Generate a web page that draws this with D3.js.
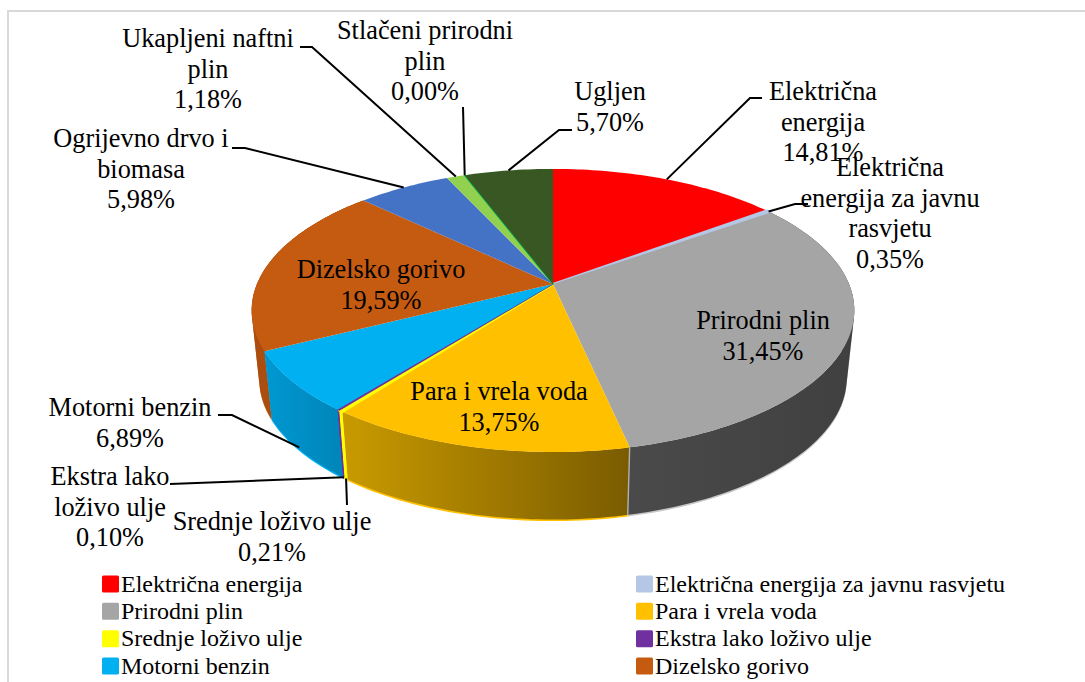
<!DOCTYPE html>
<html><head><meta charset="utf-8">
<script src="https://cdn.jsdelivr.net/npm/d3@7"></script>
<style>html,body{margin:0;padding:0;background:#fff;overflow:hidden}svg{display:block}text{font-family:"Liberation Serif",serif;fill:#000}</style>
</head><body><svg id="c" width="1085" height="682"></svg>
<script>
const categories=["Električna energija","Električna energija za javnu rasvjetu","Prirodni plin","Para i vrela voda","Srednje loživo ulje","Ekstra lako loživo ulje","Motorni benzin","Dizelsko gorivo","Ogrijevno drvo i biomasa","Ukapljeni naftni plin","Stlačeni prirodni plin","Ugljen"];
const values=[14.81,0.35,31.45,13.75,0.21,0.10,6.89,19.59,5.98,1.18,0.00,5.70];
const colors=["#ff0000","#b4c7e7","#a5a5a5","#ffc000","#ffff00","#7030a0","#00b0f0","#c55a11","#4472c4","#92d050","#00b050","#385723"];
const wallLeft=[null,null,"#4a4a4a","#c99a00","#d8d800","#5a2585","#0098d2","#aa4d0e",null,null,null,null];
const wallRight=[null,null,"#404040","#7a5c00","#d8d800","#5a2585","#0085b8","#aa4d0e",null,null,null,null];
const labelLines=[["Električna","energija"],["Električna","energija za javnu","rasvjetu"],["Prirodni plin"],["Para i vrela voda"],["Srednje loživo ulje"],["Ekstra lako","loživo ulje"],["Motorni benzin"],["Dizelsko gorivo"],["Ogrijevno drvo i","biomasa"],["Ukapljeni naftni","plin"],["Stlačeni prirodni","plin"],["Ugljen"]];
// label layout: centre x, first baseline, leader elbows, anchor depth fraction
const layout=[
 {x:823,y:100,el:[[750,98],[762,98]],d:0},
 {x:890,y:176,el:[[795,204],[808,204]],d:0},
 {x:763,y:329},
 {x:499,y:400},
 {x:272,y:530,el:[[347,505]],d:1.0},
 {x:110,y:485,el:[[170,484]],d:1.0},
 {x:130,y:416,el:[[232,415],[218,415]],d:0.97},
 {x:381,y:278},
 {x:141,y:147,el:[[245,148],[232,148]],d:0},
 {x:208,y:47,el:[[312,47],[300,47]],d:0},
 {x:425,y:39,el:[[463,107]],d:0},
 {x:610,y:100,el:[[559,130],[572,130]],d:0}
];
const W=1085,H=682,labelSize=26.3,legendSize=24,lineH=30.5;
const cx=553,cy=284,R=296,S=136.6,K=0.187,depth=67.5,shrink=0.975;
const svg=d3.select("#c");
const defs=svg.append("defs");
// frame
svg.append("path").attr("d",d3.line()([[8,H],[8,11],[W,11]])).attr("fill","none").attr("stroke","#d9d9d9").attr("stroke-width",2);

const pie=d3.pie().sort(null).value(d=>d);
const arcs=pie(values);
function topPt(a){const u=Math.sin(a),v=-Math.cos(a),w=1-K*v;return [cx+R*u/w,cy+S*v/w];}
function botPt(a,extra=0){const p=topPt(a);return [cx+(p[0]-cx)*shrink,p[1]+depth+extra];}
function samples(a0,a1){const n=Math.max(2,Math.ceil((a1-a0)/0.02));return d3.range(n+1).map(i=>a0+(a1-a0)*i/n);}
const lineGen=d3.line();
// wall band as one path of same-oriented quads, so the silhouette between rim curves is filled
function bandPath(t,extra){
 return d3.pairs(t).map(([a,b])=>{
  let q=[topPt(a),topPt(b),botPt(b,extra),botPt(a,extra)];
  if(d3.polygonArea(q)<0)q=q.reverse();
  return lineGen(q)+"Z";
 }).join("");
}

// walls
const wallG=svg.append("g");
const order=[7,6,5,4,2,3];
// coloured rim below the walls
order.forEach(i=>{const a=arcs[i],t=samples(a.startAngle,a.endAngle);
 wallG.append("path").attr("d",bandPath(t,1.6)).attr("fill",i===2?"#c8c8c8":colors[i]);
});
order.forEach(i=>{const a=arcs[i],t=samples(a.startAngle,a.endAngle);
 const xs=t.map(x=>topPt(x)[0]).concat(t.map(x=>botPt(x)[0]));
 const id="w"+i;
 const g=defs.append("linearGradient").attr("id",id).attr("gradientUnits","userSpaceOnUse")
  .attr("x1",d3.min(xs)).attr("x2",d3.max(xs)).attr("y1",0).attr("y2",0);
 g.append("stop").attr("offset",0).attr("stop-color",wallLeft[i]);
 g.append("stop").attr("offset",1).attr("stop-color",wallRight[i]);
 wallG.append("path").attr("d",bandPath(t,0)).attr("fill",`url(#${id})`);
});
// seam on wall between gold and grey
wallG.append("path").attr("d",lineGen([topPt(arcs[2].endAngle),botPt(arcs[2].endAngle)])).attr("stroke","#b0b0b0").attr("stroke-width",1.4).attr("fill","none");
// thin yellow / purple seams
[[4,"#ffff00",3],[5,"#7030a0",1.4]].forEach(([i,c,w])=>{const m=(arcs[i].startAngle+arcs[i].endAngle)/2;
 wallG.append("path").attr("d",lineGen([topPt(m),botPt(m)])).attr("stroke",c).attr("stroke-width",w).attr("fill","none");});

// top faces
svg.append("g").selectAll("path").data(arcs).join("path")
 .attr("d",a=>lineGen([[cx,cy]].concat(samples(a.startAngle,a.endAngle).map(x=>topPt(x))))+"Z")
 .attr("fill",(a,i)=>colors[i])
 .attr("stroke",(a,i)=>(values[i]<0.5?colors[i]:"none"))
 .attr("stroke-width",(a,i)=>i===10?1.6:(i===1?2.2:(i===4?2.6:1.2)))
 .attr("stroke-linejoin","round");

// leaders
const lg=svg.append("g").attr("fill","none").attr("stroke","#000").attr("stroke-width",2);
layout.forEach((l,i)=>{ if(!l.el)return;
 const m=(arcs[i].startAngle+arcs[i].endAngle)/2,p=topPt(m),b=botPt(m);
 const a=[p[0]+(b[0]-p[0])*l.d,p[1]+(b[1]-p[1])*l.d];
 lg.append("path").attr("d",lineGen([a].concat(l.el)));
});

// labels
const fmt=v=>v.toFixed(2).replace(".",",")+"%";
const tg=svg.append("g").attr("text-anchor","middle").attr("font-size",labelSize);
layout.forEach((l,i)=>{
 labelLines[i].concat([fmt(values[i])]).forEach((s,j)=>{
  tg.append("text").attr("x",l.x).attr("y",l.y+j*lineH).text(s);
 });
});

// legend
const legendCats=categories.slice(0,8);
const colX=d3.scalePoint().domain([0,1]).range([102,636]);
const rowY=d3.scaleLinear().domain([0,3]).range([584,666]);
const lgd=svg.append("g").attr("font-size",legendSize);
legendCats.forEach((c,i)=>{
 const x=colX(i%2),y=rowY(Math.floor(i/2));
 lgd.append("rect").attr("x",x).attr("y",y-8.5).attr("width",17).attr("height",17).attr("rx",1.5).attr("fill",colors[i]);
 lgd.append("text").attr("x",x+19).attr("y",y+7.5).text(c);
});
</script></body></html>
